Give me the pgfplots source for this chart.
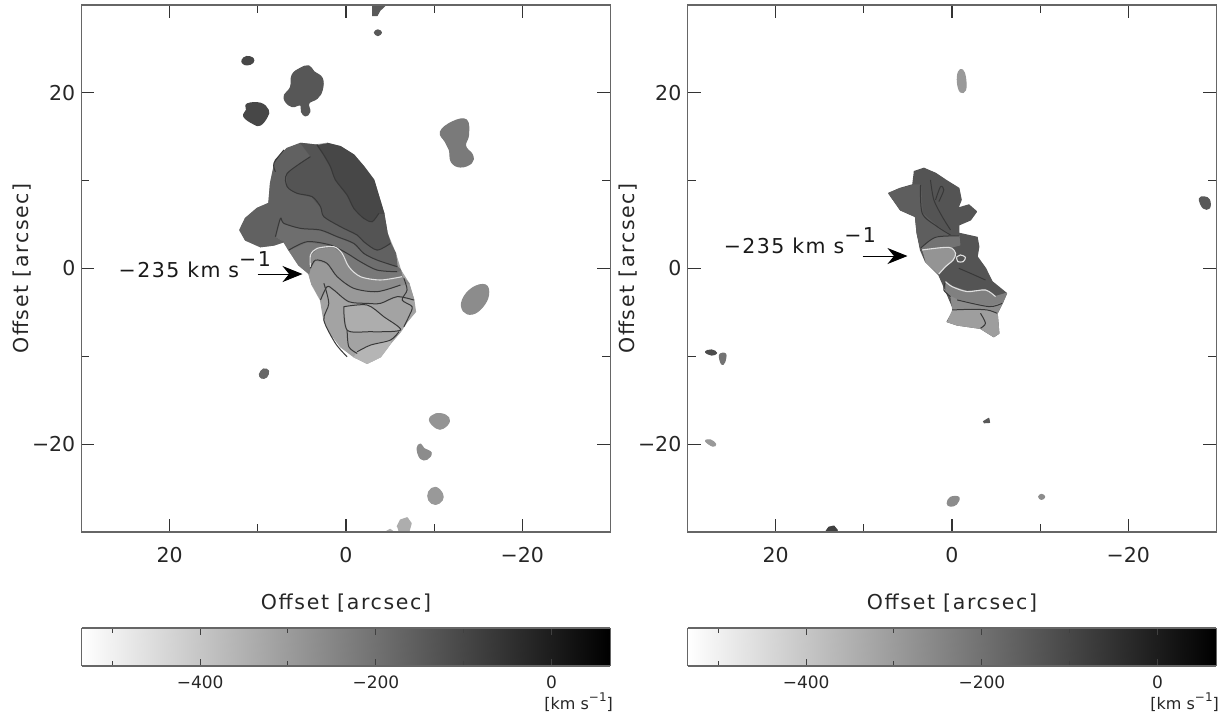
\documentclass[border=0pt]{standalone}
\usepackage{fontspec}
\setmainfont{DejaVu Sans}
\usepackage{pgfplots}
\pgfplotsset{compat=1.18}
\usetikzlibrary{arrows.meta}

\definecolor{frame}{gray}{0.4}
\newcommand\tickfont{\fontsize{20.5}{24}\selectfont}
\newcommand\labfont{\fontsize{20.5}{24}\selectfont\addfontfeature{LetterSpace=8}}
\newcommand\annfont{\fontsize{20.5}{24}\selectfont\addfontfeature{LetterSpace=7}}
\newcommand\barfont{\fontsize{17}{20}\selectfont}
\newcommand\unitfont{\fontsize{16}{18}\selectfont}

\pgfplotsset{
  panel/.style={
    scale only axis, width=529pt, height=527pt, anchor=south west,
    xmin=-30, xmax=30, ymin=-30, ymax=30, x dir=reverse,
    axis on top, axis line style={frame, line width=1.8pt},
    xtick={20,0,-20}, xticklabels={20,0,−20},
    ytick={20,0,-20}, yticklabels={20,0,−20},
    minor xtick={10,-10}, minor ytick={10,-10},
    tick align=inside, tick pos=both,
    major tick length=13pt, minor tick length=8pt,
    tick style={black!80, line width=1.1pt},
    ticklabel style={font=\tickfont, inner sep=0pt, text=black!85},
    xticklabel style={yshift=-15pt},
    yticklabel style={xshift=-6pt},
    xlabel={Offset [arcsec]}, ylabel={Offset [arcsec]},
    label style={font=\labfont, text=black!85},
    xlabel style={at={(axis description cs:0.5,-0.135)}, anchor=center},
    ylabel style={at={(axis description cs:-0.1125,0.5)}, anchor=center, rotate=0},
  },
  % value = percentage of black
  pg/.style={draw=black!#1, line width=1.2pt, line join=round, fill=black!#1, forget plot},
  pgs/.style={pg=#1, smooth cycle, tension=0.7},
  ln/.style={black!78, line width=1pt, forget plot, line join=round, smooth, tension=0.5},
  lt/.style={black!12, line width=1.1pt, forget plot, line join=round, smooth, tension=0.5},
  cbar/.style={
    scale only axis, width=529pt, height=38pt, anchor=south west,
    xmin=-535, xmax=67, ymin=0, ymax=1, view={0}{90},
    axis on top, axis line style={frame, line width=1.8pt},
    ytick=\empty, xtick={-400,-200,0}, xticklabels={−400,−200,0},
    minor xtick={-500,-300,-100},
    tick align=inside, tick pos=both,
    major tick length=7pt, minor tick length=5pt,
    tick style={black!75, line width=1pt},
    xticklabel style={font=\barfont, inner sep=0pt, yshift=-10pt, text=black!85},
    colormap={bw}{gray(0cm)=(1); gray(1cm)=(0)},
    point meta min=-535, point meta max=67,
    clip=false,
  },
}

\begin{document}
\begin{tikzpicture}
\path[use as bounding box] (0,0) rectangle (1226pt,719pt);

%% left map
\begin{axis}[panel, at={(81.5pt,187pt)}]
% main cloud, base
\addplot[pg=36] coordinates {(5.16,14.25)(3.46,14.06)(2.14,14.25)(.62,13.87)(-.89,12.92)(-2.02,11.59)(-3.15,10.08)(-3.72,8.18)(-4.29,6.28)(-4.67,4)(-5.61,1.72)(-6.18,-.18)(-7.12,-1.69)(-7.69,-3.59)(-7.88,-4.92)(-6.93,-6.06)(-6.18,-7.2)(-5.04,-8.53)(-3.91,-10.05)(-2.4,-10.8)(-.89,-10.05)(.62,-8.91)(1.76,-7.39)(2.51,-5.87)(2.89,-3.59)(3.84,-1.88)(4.22,-.56)(5.35,.39)(6.48,2.1)(7.05,3.05)(8.18,2.67)(9.7,2.48)(11.4,3.24)(12.04,4.38)(11.4,5.71)(10.07,6.85)(8.75,7.42)(8.56,9.7)(8,12.35)(6.67,13.68)};
% lighter patches low down
\addplot[pg=32] coordinates {(.25,-4.35)(-2.4,-4.16)(-4.29,-5.49)(-6.18,-7.01)(-2.59,-7.2)(-.13,-7.01)};
\addplot[pg=29] coordinates {(-1.27,-9.48)(-2.78,-8.72)(-5.04,-8.15)(-5.04,-8.53)(-3.91,-10.05)(-2.4,-10.8)(-.89,-10.05)};
% velocity bands, bottom to top
\addplot[pg=40] coordinates {(2.89,-3.59)(2.14,-2.07)(1.38,-2.45)(-.32,-3.78)(-2.4,-3.97)(-3.91,-3.97)(-5.8,-3.21)(-7.69,-3.59)(-7.12,-1.69)(-6.18,-1.88)(-3.53,-2.64)(-.89,-2.26)(1,-.93)(2.14,.58)(3.46,.96)(4.03,.02)(4.22,-.56)(3.84,-1.88)};
\addplot[pg=45] coordinates {(4.03,.02)(3.46,.96)(2.14,.58)(1,-.93)(-.89,-2.26)(-3.53,-2.64)(-6.18,-1.88)(-7.12,-1.69)(-6.37,-.93)(-3.91,-1.31)(-1.64,-.93)(-.32,.2)(.44,1.72)(1.38,2.48)(3.27,2.29)(4.03,1.53)(4.03,.2)};
\addplot[pg=53] coordinates {(6.48,2.1)(5.35,.39)(4.22,-.56)(4.03,.2)(4.03,1.53)(3.27,2.29)(1.38,2.48)(.44,1.72)(-.32,.2)(-1.64,-.93)(-3.91,-1.31)(-6.37,-.93)(-6.18,-.18)(-5.8,-.37)(-3.53,-.18)(-1.64,.77)(-.13,1.72)(1.76,2.67)(4.4,3.05)};
\addplot[pg=57] coordinates {(7.05,3.05)(6.48,2.1)(4.4,3.05)(1.76,2.67)(-.13,1.72)(-1.64,.77)(-3.53,-.18)(-5.8,-.37)(-6.18,-.18)(-5.8,.21)(-3.53,.96)(-2.02,1.72)(-.89,2.86)(1,3.62)(2.89,4.38)(5.16,4.57)(7.05,5.14)(7.43,5.71)(8,3.62)};
\addplot[pg=62] coordinates {(8,3.62)(7.43,5.71)(7.05,5.14)(5.16,4.57)(2.89,4.38)(1,3.62)(-.89,2.86)(-2.02,1.72)(-3.53,.96)(-5.8,.21)(-5.61,1.72)(-5.04,2.86)(-3.53,2.1)(-2.02,3.05)(-1.27,3.81)(.62,4.76)(2.51,5.9)(2.89,7.04)(3.84,8.18)(5.54,8.56)(6.67,9.32)(6.67,10.83)(4.03,12.73)(5.16,14.25)(6.67,13.68)(8,12.35)(8.56,9.7)(8.75,7.42)(10.07,6.85)(11.4,5.71)(12.04,4.38)(11.4,3.24)(9.7,2.48)(8.18,2.67)(7.05,3.05)};
\addplot[pg=67] coordinates {(4.03,12.73)(6.67,10.83)(6.67,9.32)(5.54,8.56)(3.84,8.18)(2.89,7.04)(2.51,5.9)(.62,4.76)(-1.27,3.81)(-2.02,3.05)(-3.53,2.1)(-5.04,2.86)(-4.67,4)(-4.29,6.28)(-3.72,6.28)(-2.97,5.33)(-2.02,5.71)(-.89,6.85)(-.13,8.37)(1.19,10.08)(1.76,11.59)(2.51,12.92)(3.27,14.06)(3.46,14.06)(5.16,14.25)};
\addplot[pg=72] coordinates {(3.27,14.06)(2.51,12.92)(1.76,11.59)(1.19,10.08)(-.13,8.37)(-.89,6.85)(-2.02,5.71)(-2.97,5.33)(-3.72,6.28)(-4.29,6.28)(-3.72,8.18)(-3.15,10.08)(-2.02,11.59)(-.89,12.92)(.62,13.87)(2.14,14.25)};
% contours
\addplot[ln] coordinates {(3.27,14.06)(2.51,12.92)(1.76,11.59)(1.19,10.08)(-.13,8.37)(-.89,6.85)(-2.02,5.71)(-2.97,5.33)(-3.72,6.28)};
\addplot[ln] coordinates {(4.03,12.73)(6.67,10.83)(6.67,9.32)(5.54,8.56)(3.84,8.18)(2.89,7.04)(2.51,5.9)(.62,4.76)(-1.27,3.81)(-2.02,3.05)(-3.53,2.1)(-5.04,2.86)};
\addplot[ln] coordinates {(8,3.62)(7.43,5.71)(7.05,5.14)(5.16,4.57)(2.89,4.38)(1,3.62)(-.89,2.86)(-2.02,1.72)(-3.53,.96)(-5.8,.21)};
\addplot[ln] coordinates {(6.48,2.1)(4.4,3.05)(1.76,2.67)(-.13,1.72)(-1.64,.77)(-3.53,-.18)(-5.8,-.37)};
\addplot[ln] coordinates {(4.03,.02)(3.46,.96)(2.14,.58)(1,-.93)(-.89,-2.26)(-3.53,-2.64)(-6.18,-1.88)};
\addplot[ln] coordinates {(2.89,-3.59)(2.14,-2.07)(1.38,-2.45)(-.32,-3.78)(-2.4,-3.97)(-3.91,-3.97)(-5.8,-3.21)(-7.69,-3.59)};
\addplot[ln] coordinates {(.25,-4.35)(-2.4,-4.16)(-4.29,-5.49)(-6.18,-7.01)(-2.59,-7.2)(-.13,-7.01)(.25,-4.35)};
\addplot[ln] coordinates {(-.13,-7.01)(-.32,-8.91)(-1.27,-9.67)};
\addplot[ln] coordinates {(-1.27,-9.48)(-2.78,-8.72)(-5.04,-8.15)(-6,-7.2)};
\addplot[ln] coordinates {(2.51,-1.69)(1.95,-3.97)(2.51,-5.87)(1.19,-8.53)(-.13,-10.05)};
\addplot[ln] coordinates {(-6.56,-1.12)(-6.93,-2.45)(-6.37,-3.59)(-7.5,-4.35)(-7.12,-5.49)(-6.56,-6.63)};
\addplot[ln] coordinates {(7.05,13.49)(8.18,11.98)(8,11.02)};
% the -235 contour
\addplot[lt] coordinates {(4.03,.2)(4.03,1.53)(3.27,2.29)(1.38,2.48)(.44,1.72)(-.32,.2)(-1.64,-.93)(-3.91,-1.31)(-6.37,-.93)};
% outlying clumps
\addplot[pgs=66] coordinates {(6.1,22.04)(5.16,22.8)(4.22,23.06)(3.65,22.42)(2.7,21.66)(2.7,20.33)(3.27,19.38)(4.22,18.81)(4.1,17.86)(4.59,17.37)(5.05,17.86)(5.16,18.62)(6.1,18.43)(6.86,19)(6.97,19.76)(6.29,20.63)};
\addplot[pgs=72] coordinates {(11.21,18.73)(9.7,18.81)(8.83,18.05)(8.94,17.29)(9.7,16.34)(10.45,16.46)(11.58,17.29)(11.28,18.05)};
\addplot[pgs=72] coordinates {(11.77,23.75)(11.28,24.13)(10.56,23.94)(10.56,23.44)(11.21,23.18)(11.7,23.37)};
\addplot[pg=65] coordinates {(-2.97,30)(-4.48,30)(-3.84,29.37)(-3.53,28.8)(-2.97,28.8)};
\addplot[pgs=65] coordinates {(-3.23,26.86)(-3.61,27.16)(-4.02,26.86)(-3.61,26.52)};
\addplot[pgs=52] coordinates {(-10.71,15.55)(-12.07,16.69)(-13.66,16.91)(-13.89,15.2)(-13.55,13.95)(-14.34,12.93)(-14.23,12.02)(-12.98,11.56)(-11.96,12.13)(-11.73,13.5)(-11.28,14.41)};
\addplot[pgs=45] coordinates {(-13.21,-3.59)(-14.34,-2.22)(-15.82,-1.88)(-16.16,-3.02)(-15.48,-4.38)(-14.34,-5.18)(-13.32,-4.84)};
\addplot[pgs=60] coordinates {(9.81,-12.02)(9.35,-11.45)(8.79,-11.67)(9.01,-12.36)(9.58,-12.47)};
\addplot[pgs=42] coordinates {(-9.47,-17.25)(-10.15,-16.57)(-11.28,-16.69)(-11.73,-17.37)(-11.05,-18.17)(-10.26,-18.17)};
\addplot[pgs=45] coordinates {(-8.07,-20.48)(-8.45,-19.99)(-8.82,-20.48)(-9.66,-20.98)(-9.21,-21.7)(-8.45,-21.62)};
\addplot[pgs=40] coordinates {(-9.39,-25.42)(-10.15,-24.92)(-10.91,-25.6)(-10.91,-26.37)(-10.15,-26.86)(-9.39,-26.37)};
\addplot[pg=32] coordinates {(-5.8,-29.4)(-6.18,-28.64)(-6.94,-28.38)(-7.39,-29.02)(-7.12,-30)(-5.99,-30)};
\addplot[pg=30] coordinates {(-4.5,-30)(-5,-29.7)(-5.4,-30)};
\draw[black, line width=1pt, -{Stealth[length=20pt, width=16pt]}] (axis cs:10.03,-.63) -- (axis cs:4.93,-.63);
\node[anchor=west, inner sep=0pt, font=\annfont, text=black!90] at (axis cs:25.8,.4) {−235 km s\raisebox{.55em}{−1}};
\end{axis}

%% right map
\begin{axis}[panel, at={(687.5pt,187pt)}]
\addplot[pg=67] coordinates {(4.33,11.03)(3.19,11.41)(1.87,10.84)(.74,10.08)(-.78,9.13)(-1.04,7.81)(-.66,6.86)(-1.91,7.24)(-2.78,6.48)(-2.1,5.53)(-.78,4.96)(-.78,4.01)(-2.85,3.55)(-3.04,2.49)(-2.85,1.35)(-3.8,.02)(-4.55,-1.5)(-6.18,-2.83)(-5.69,-3.96)(-5.12,-5.1)(-5.31,-7.38)(-4.74,-7.76)(-3.23,-6.81)(-.59,-6.43)(.55,-6.05)(-.21,-4.72)(.74,-2.45)(1.49,-.74)(3,.78)(3.57,2.11)(3.95,4.01)(4.14,5.91)(5.84,6.67)(7.16,8.56)(5.84,9.13)(4.52,9.51)};
\addplot[pg=63] coordinates {(4.52,9.51)(3.57,9.51)(3.38,6.29)(1.68,4.77)(.17,3.82)(3.57,2.49)(3.95,4.01)(4.14,5.91)(5.84,6.67)(7.16,8.56)(5.84,9.13)};
\addplot[pg=55] coordinates {(3.57,2.3)(1.87,3.55)(-.78,3.71)(-.89,2.68)(.17,2.41)(3.38,2.19)};
\addplot[pg=42] coordinates {(3.38,2.11)(.36,2.41)(-.4,1.73)(-.13,.97)(.74,.21)(1.49,-.62)(3,.78)};
\addplot[pg=50] coordinates {(.74,-1.5)(-.02,-2.07)(-1.72,-2.63)(-3.8,-2.45)(-4.93,-3.2)(-6.18,-2.83)(-5.69,-3.96)(-4.18,-4.34)(-.59,-3.58)(.17,-3.2)(.74,-2.45)};
\addplot[pg=45] coordinates {(.17,-3.2)(-.59,-3.58)(-4.18,-4.34)(-5.69,-3.96)(-5.12,-5.1)(-3.99,-4.72)(-2.1,-4.65)(-.02,-4.72)};
\addplot[pg=38] coordinates {(-.02,-4.72)(-2.1,-4.65)(-3.99,-4.72)(-5.12,-5.1)(-5.31,-7.38)(-4.74,-7.76)(-3.23,-6.81)(-.59,-6.43)(.55,-6.05)};
\addplot[ln] coordinates {(3.57,9.51)(3.38,6.29)(1.68,4.77)(.17,3.82)};
\addplot[ln] coordinates {(2.44,10.08)(2.06,7.81)(1.11,5.91)(.17,4.39)};
\addplot[ln] coordinates {(1.87,7.81)(1.3,9.32)(.93,8.94)(1.49,7.62)};
\addplot[ln] coordinates {(3.57,2.3)(1.87,3.55)(-.78,3.71)};
\addplot[ln] coordinates {(-.78,.02)(-2.1,-.55)(-3.8,-1.31)};
\addplot[ln] coordinates {(.74,-1.5)(.93,-2.45)(.17,-3.2)};
\addplot[ln] coordinates {(-.59,-3.58)(-4.18,-4.34)(-5.69,-3.96)};
\addplot[ln] coordinates {(-.02,-4.72)(-2.1,-4.65)(-3.99,-4.72)(-5.12,-5.1)};
\addplot[ln] coordinates {(-3.23,-5.1)(-3.8,-6.24)(-3.23,-6.81)};
\addplot[lt] coordinates {(3.38,2.11)(.36,2.41)(-.4,1.73)(-.13,.97)(.74,.21)(1.49,-.62)};
\addplot[lt] coordinates {(-.51,1.28)(-.96,1.54)(-1.53,1.28)(-1.27,.78)(-.66,.78)(-.51,1.28)};
\addplot[lt] coordinates {(.74,-1.5)(-.02,-2.07)(-1.72,-2.63)(-3.8,-2.45)(-4.93,-3.2)};
% outlying clumps
\addplot[pgs=40] coordinates {(-.74,22.38)(-1.2,22.6)(-1.53,21.7)(-1.53,20.33)(-.96,20.1)(-.62,21.2)};
\addplot[pgs=65] coordinates {(-28.06,7.92)(-28.63,8.14)(-29.2,7.8)(-29.2,6.89)(-28.5,6.89)};
\addplot[pgs=70] coordinates {(27.95,-9.5)(27.27,-9.28)(26.7,-9.62)(27.27,-9.85)};
\addplot[pgs=55] coordinates {(26.36,-9.85)(25.68,-9.74)(25.79,-10.65)(26.13,-10.88)};
\addplot[pgs=40] coordinates {(27.95,-19.65)(27.38,-19.53)(26.81,-19.99)(27.15,-20.22)};
\addplot[pg=65] coordinates {(-3.54,-17.45)(-4.17,-17.06)(-4.25,-17.52)(-3.61,-17.56)};
\addplot[pgs=45] coordinates {(.54,-26.74)(.17,-26.06)(-.77,-26.06)(-.51,-26.82)(.17,-27.05)};
\addplot[pgs=45] coordinates {(-9.84,-25.99)(-10.15,-25.72)(-10.52,-25.99)(-10.15,-26.29)};
\addplot[pg=75] coordinates {(14.34,-30)(13.97,-29.46)(13.4,-29.33)(13.02,-29.78)(13.1,-30)};
\draw[black, line width=1pt, -{Stealth[length=20pt, width=16pt]}] (axis cs:10.15,1.42) -- (axis cs:5.05,1.42);
\node[anchor=west, inner sep=0pt, font=\annfont, text=black!90] at (axis cs:25.9,3.15) {−235 km s\raisebox{.55em}{−1}};
\end{axis}

%% velocity bars
\begin{axis}[cbar, at={(81.5pt,53pt)}]
\addplot3[surf, shader=interp, point meta=x, forget plot] coordinates {
  (-535,0,0) (67,0,0)

  (-535,1,0) (67,1,0)
};
\node[anchor=east, inner sep=0pt, font=\unitfont, text=black!85] at (rel axis cs:1.005,-0.95) {[km s\raisebox{.5em}{\fontsize{12}{12}\selectfont −1}]};
\end{axis}
\begin{axis}[cbar, at={(687.5pt,53pt)}]
\addplot3[surf, shader=interp, point meta=x, forget plot] coordinates {
  (-535,0,0) (67,0,0)

  (-535,1,0) (67,1,0)
};
\node[anchor=east, inner sep=0pt, font=\unitfont, text=black!85] at (rel axis cs:1.005,-0.95) {[km s\raisebox{.5em}{\fontsize{12}{12}\selectfont −1}]};
\end{axis}
\end{tikzpicture}
\end{document}
